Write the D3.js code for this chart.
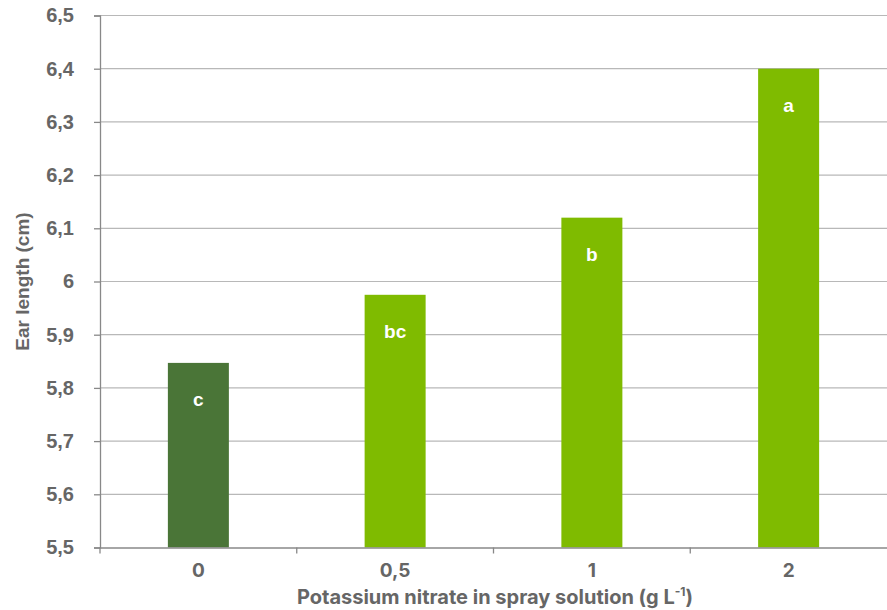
<!DOCTYPE html>
<html><head><meta charset="utf-8">
<script src="https://cdn.jsdelivr.net/npm/d3@7"></script>
<style>body{margin:0;background:#fff}svg{display:block}
.arial{font-family:"Liberation Sans", Arial, Helvetica, sans-serif;font-weight:700}
.geo{font-family:Inter, "Open Sans", sans-serif;font-weight:700}
</style>
</head><body>
<svg id="chart" width="887" height="610"></svg>
<script>
const categories = ["0", "0,5", "1", "2"];
const values = [5.847, 5.975, 6.12, 6.40];
const letters = ["c", "bc", "b", "a"];
const barColors = ["#4a7537", "#7fbb00", "#7fbb00", "#7fbb00"];
const yTicks = [5.5, 5.6, 5.7, 5.8, 5.9, 6.0, 6.1, 6.2, 6.3, 6.4, 6.5];

const svg = d3.select("#chart");
const m = {left: 100, right: 887, top: 15.5, bottom: 547.5};
const x = d3.scaleBand().domain(categories).range([m.left, m.right]).paddingInner(0).paddingOuter(0);
const y = d3.scaleLinear().domain([5.5, 6.5]).range([m.bottom, m.top]);
const fmt = d => d3.format(".1~f")(d).replace(".", ",");

// gridlines
svg.append("g").selectAll("line").data(yTicks.slice(1)).join("line")
  .attr("x1", m.left).attr("x2", m.right)
  .attr("y1", d => y(d)).attr("y2", d => y(d))
  .attr("stroke", "#b8b8b8").attr("stroke-width", 1.2);

// bars
const bw = 61;
svg.append("g").selectAll("rect").data(values).join("rect")
  .attr("x", (d, i) => x(categories[i]) + x.bandwidth() / 2 - bw / 2)
  .attr("width", bw)
  .attr("y", d => y(d))
  .attr("height", d => y(5.5) - y(d))
  .attr("fill", (d, i) => barColors[i]);

// letters
svg.append("g").selectAll("text").data(values).join("text")
  .attr("class", "arial")
  .attr("x", (d, i) => x(categories[i]) + x.bandwidth() / 2)
  .attr("y", d => y(d) + 43)
  .attr("text-anchor", "middle")
  .attr("fill", "#fff")
  .attr("font-size", 19)
  .text((d, i) => letters[i]);

// y axis
const yAxis = svg.append("g").attr("transform", `translate(${m.left},0)`)
  .call(d3.axisLeft(y).tickValues(yTicks).tickFormat(fmt).tickSize(6).tickPadding(20));
yAxis.attr("font-family", null).attr("font-size", null);
yAxis.select(".domain").attr("stroke", "#888").attr("stroke-width", 1.3);
yAxis.selectAll(".tick line").attr("stroke", "#888").attr("stroke-width", 1.3);
yAxis.selectAll("text").attr("class", "arial").attr("fill", "#666").attr("font-size", 20);

// x axis
const xAxis = svg.append("g").attr("transform", `translate(0,${m.bottom})`)
  .call(d3.axisBottom(x).tickSize(0).tickPadding(16));
xAxis.attr("font-family", null).attr("font-size", null);
xAxis.select(".domain").attr("stroke", "#888").attr("stroke-width", 1.6);
xAxis.selectAll("text").attr("class", "geo").attr("fill", "#666").attr("font-size", 19);
// boundary ticks between categories
const bounds = categories.map(c => x(c));
svg.append("g").selectAll("line").data(bounds).join("line")
  .attr("x1", d => d).attr("x2", d => d)
  .attr("y1", m.bottom).attr("y2", m.bottom + 6)
  .attr("stroke", "#888").attr("stroke-width", 1.3);

// axis titles
svg.append("text")
  .attr("class", "arial")
  .attr("transform", `translate(29,${(m.top + m.bottom) / 2}) rotate(-90)`)
  .attr("text-anchor", "middle")
  .attr("fill", "#666").attr("font-size", 19)
  .text("Ear length (cm)");

const xt = svg.append("text")
  .attr("class", "geo")
  .attr("x", 495).attr("y", 604)
  .attr("text-anchor", "middle")
  .attr("fill", "#666").attr("font-size", 20);
xt.append("tspan").text("Potassium nitrate in spray solution (g L");
xt.append("tspan").attr("font-size", 12).attr("dy", -8).text("-1");
xt.append("tspan").attr("dy", 8).text(")");
</script>
</body></html>
